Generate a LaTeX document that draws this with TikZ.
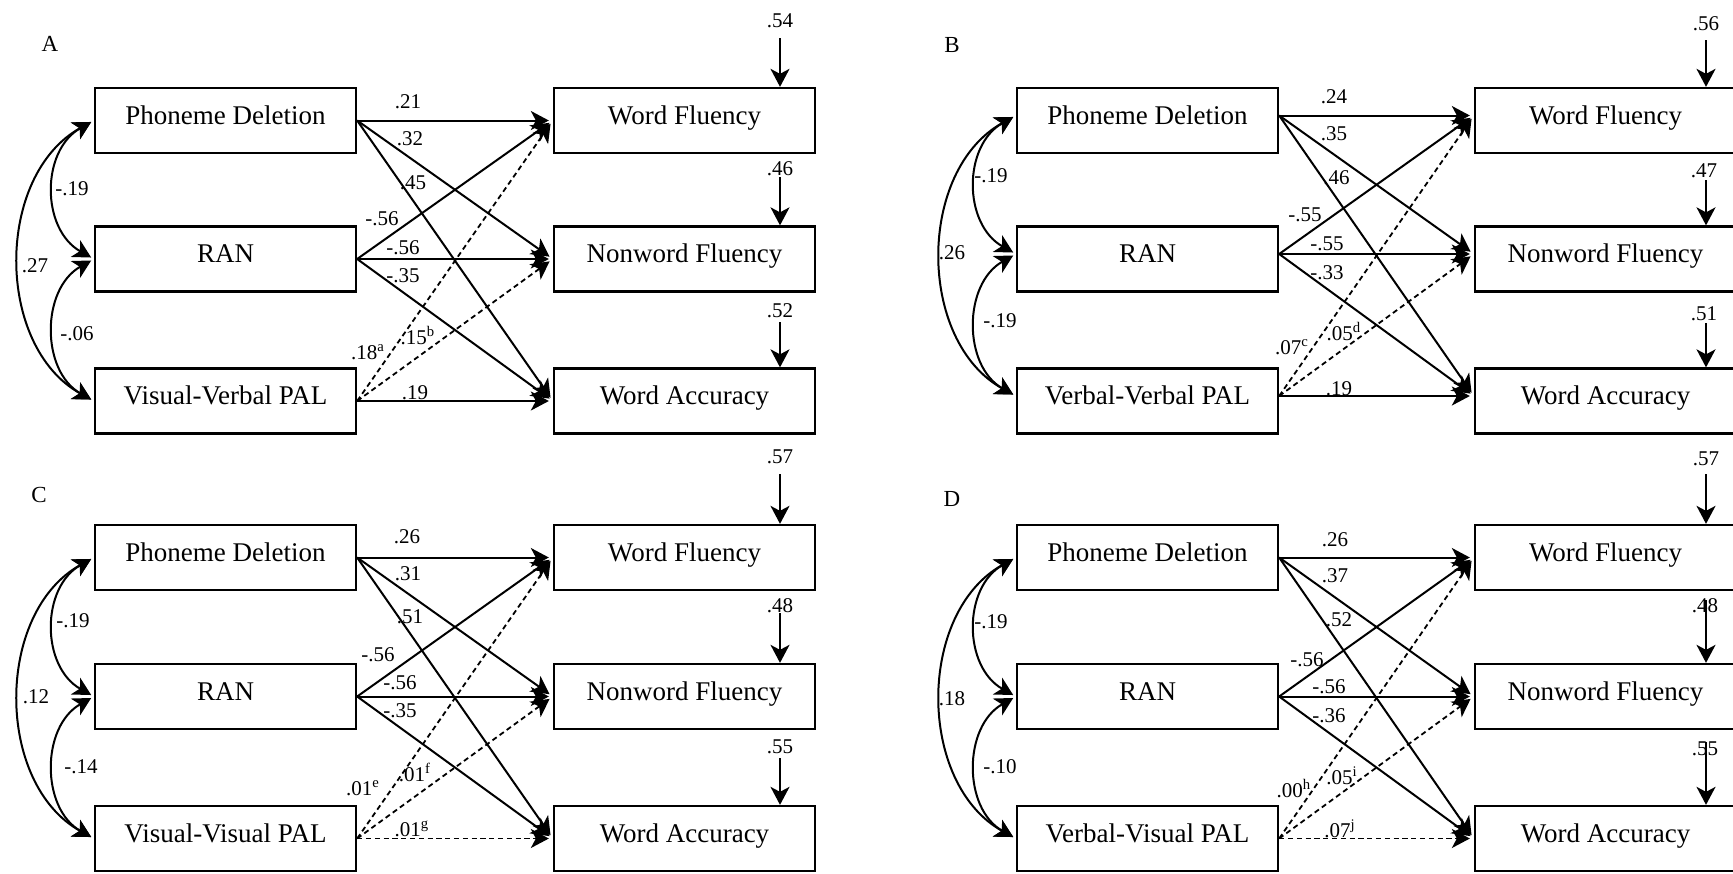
\documentclass[tikz,border=0pt]{standalone}
\usepackage{fontspec}
\setmainfont{Liberation Serif}
\usetikzlibrary{arrows.meta}

\tikzset{
  box/.style={draw=black, line width=1.15pt, minimum width=130.5pt, minimum height=32.5pt,
    inner sep=0pt, font=\fontsize{13.5pt}{16pt}\selectfont, text height=9pt, text depth=5.5pt},
  lab/.style={inner sep=0pt, font=\fontsize{10.5pt}{12pt}\selectfont, text height=7.1pt, text depth=0pt},
  ttl/.style={inner sep=0pt, font=\fontsize{11.5pt}{13pt}\selectfont, text height=7.6pt, text depth=0pt},
  causal/.style={->, line width=1pt, shorten >=2pt},
  dcausal/.style={causal, line width=0.9pt, dash pattern=on 2.6pt off 1.8pt},
  cov/.style={<->, line width=1pt, shorten >=1.5pt, shorten <=1.5pt},
  err/.style={->, line width=1pt},
}

% paths of one model: #1 node prefix, #2 vertical offset of the path ends,
% #3 style of the PAL -> Word Accuracy path
\newcommand\modelpaths[3]{%
  \foreach \srcbox in {PD,RAN}{
    \foreach \dstbox in {WF,NF,WA}{
      \draw[causal] ([yshift=#2]#1\srcbox.east) -- ([yshift=#2]#1\dstbox.west);
    }
  }
  \draw[dcausal] ([yshift=#2]#1PAL.east) -- ([yshift=#2]#1WF.west);
  \draw[dcausal] ([yshift=#2]#1PAL.east) -- ([yshift=#2]#1NF.west);
  \draw[#3] ([yshift=#2]#1PAL.east) -- ([yshift=#2]#1WA.west);
  \draw[cov] ([yshift=#2]#1PD.west) .. controls +(-53,30) and +(-53,-30) .. ([yshift=#2]#1RAN.west);
  \draw[cov] ([yshift=#2]#1RAN.west) .. controls +(-53,30) and +(-53,-30) .. ([yshift=#2]#1PAL.west);
  \draw[cov] ([yshift=#2]#1PD.west) .. controls +(-99,55) and +(-99,-55) .. ([yshift=#2]#1PAL.west);
}

\begin{document}
\begin{tikzpicture}[x=0.5pt, y=-0.5pt, >={Stealth[length=9pt,width=9.5pt,inset=2.5pt]}]
\fill[white] (0,0) rectangle (1733,873);
\clip (0,0) rectangle (1733,873);

% ---------------- Model A ----------------
\node[ttl] (aTitle) at (50,44) {A};
\node[box] (aPD)  at (225.5,120.5) {Phoneme Deletion};
\node[box] (aRAN) at (225.5,259)   {RAN};
\node[box] (aPAL) at (225.5,401)   {Visual-Verbal PAL};
\node[box] (aWF)  at (684.5,120.5) {Word Fluency};
\node[box] (aNF)  at (684.5,259)   {Nonword Fluency};
\node[box] (aWA)  at (684.5,401)   {Word Accuracy};
\modelpaths{a}{0pt}{causal}
\coordinate (aE1) at (780,38);
\coordinate (aE2) at (780,177);
\coordinate (aE3) at (780,322);
\draw[err] (aE1) -- (aE1 |- aWF.north);
\draw[err] (aE2) -- (aE2 |- aNF.north);
\draw[err] (aE3) -- (aE3 |- aWA.north);
\node[lab] (aR1) at (780,20)  {.54};
\node[lab] (aR2) at (780,168) {.46};
\node[lab] (aR3) at (780,310) {.52};
\node[lab] (aC1) at (72,188)  {-.19};
\node[lab] (aC2) at (35,265)  {.27};
\node[lab] (aC3) at (77,333)  {-.06};
\node[lab] (aP1) at (408,101) {.21};
\node[lab] (aP2) at (410,138) {.32};
\node[lab] (aP3) at (413,182) {.45};
\node[lab] (aP4) at (382,218) {-.56};
\node[lab] (aP5) at (403,247) {-.56};
\node[lab] (aP6) at (403,275) {-.35};
\node[lab] (aP7) at (368,352) {.18\textsuperscript{a}};
\node[lab] (aP8) at (418,337) {.15\textsuperscript{b}};
\node[lab] (aP9) at (415,392) {.19};

% ---------------- Model B ----------------
\node[ttl] (bTitle) at (952,45) {B};
\node[box] (bPD)  at (1147.5,120.5) {Phoneme Deletion};
\node[box] (bRAN) at (1147.5,259)   {RAN};
\node[box] (bPAL) at (1147.5,401)   {Verbal-Verbal PAL};
\node[box] (bWF)  at (1605.5,120.5) {Word Fluency};
\node[box] (bNF)  at (1605.5,259)   {Nonword Fluency};
\node[box] (bWA)  at (1605.5,401)   {Word Accuracy};
\modelpaths{b}{2.5pt}{causal}
\coordinate (bE1) at (1706,40);
\coordinate (bE2) at (1706,180);
\coordinate (bE3) at (1706,323);
\draw[err] (bE1) -- (bE1 |- bWF.north);
\draw[err] (bE2) -- (bE2 |- bNF.north);
\draw[err] (bE3) -- (bE3 |- bWA.north);
\node[lab] (bR1) at (1706,23)  {.56};
\node[lab] (bR2) at (1704,170) {.47};
\node[lab] (bR3) at (1704,313) {.51};
\node[lab] (bC1) at (991,175)  {-.19};
\node[lab] (bC2) at (952,252)  {.26};
\node[lab] (bC3) at (1000,320) {-.19};
\node[lab] (bP1) at (1334,96)  {.24};
\node[lab] (bP2) at (1334,133) {.35};
\node[lab] (bP3) at (1336.5,177) {.46};
\node[lab] (bP4) at (1305,214) {-.55};
\node[lab] (bP5) at (1327,243) {-.55};
\node[lab] (bP6) at (1327,272) {-.33};
\node[lab] (bP7) at (1292,347) {.07\textsuperscript{c}};
\node[lab] (bP8) at (1344,333) {.05\textsuperscript{d}};
\node[lab] (bP9) at (1339,388) {.19};

% ---------------- Model C ----------------
\node[ttl] (cTitle) at (39,495) {C};
\node[box] (cPD)  at (225.5,557.5) {Phoneme Deletion};
\node[box] (cRAN) at (225.5,696.5) {RAN};
\node[box] (cPAL) at (225.5,838.5) {Visual-Visual PAL};
\node[box] (cWF)  at (684.5,557.5) {Word Fluency};
\node[box] (cNF)  at (684.5,696.5) {Nonword Fluency};
\node[box] (cWA)  at (684.5,838.5) {Word Accuracy};
\modelpaths{c}{0pt}{dcausal}
\coordinate (cE1) at (780,474);
\coordinate (cE2) at (780,613);
\coordinate (cE3) at (780,758);
\draw[err] (cE1) -- (cE1 |- cWF.north);
\draw[err] (cE2) -- (cE2 |- cNF.north);
\draw[err] (cE3) -- (cE3 |- cWA.north);
\node[lab] (cR1) at (780,456) {.57};
\node[lab] (cR2) at (780,605) {.48};
\node[lab] (cR3) at (780,746) {.55};
\node[lab] (cC1) at (73,620)  {-.19};
\node[lab] (cC2) at (36,696)  {.12};
\node[lab] (cC3) at (81,766)  {-.14};
\node[lab] (cP1) at (407,536) {.26};
\node[lab] (cP2) at (408,573) {.31};
\node[lab] (cP3) at (410,616) {.51};
\node[lab] (cP4) at (378,654) {-.56};
\node[lab] (cP5) at (400,682) {-.56};
\node[lab] (cP6) at (400,710) {-.35};
\node[lab] (cP7) at (363,788) {.01\textsuperscript{e}};
\node[lab] (cP8) at (415,774) {.01\textsuperscript{f}};
\node[lab] (cP9) at (412,829) {.01\textsuperscript{g}};

% ---------------- Model D ----------------
\node[ttl] (dTitle) at (952,499) {D};
\node[box] (dPD)  at (1147.5,557.5) {Phoneme Deletion};
\node[box] (dRAN) at (1147.5,696.5) {RAN};
\node[box] (dPAL) at (1147.5,838.5) {Verbal-Visual PAL};
\node[box] (dWF)  at (1605.5,557.5) {Word Fluency};
\node[box] (dNF)  at (1605.5,696.5) {Nonword Fluency};
\node[box] (dWA)  at (1605.5,838.5) {Word Accuracy};
\modelpaths{d}{0pt}{dcausal}
\coordinate (dE1) at (1706,474);
\coordinate (dE2) at (1706,600);
\coordinate (dE3) at (1706,742);
\draw[err] (dE1) -- (dE1 |- dWF.north);
\draw[err] (dE2) -- (dE2 |- dNF.north);
\draw[err] (dE3) -- (dE3 |- dWA.north);
\node[lab] (dR1) at (1706,458) {.57};
\node[lab] (dR2) at (1705,605) {.48};
\node[lab] (dR3) at (1705,748) {.55};
\node[lab] (dC1) at (991,621)  {-.19};
\node[lab] (dC2) at (952,698)  {.18};
\node[lab] (dC3) at (1000,766) {-.10};
\node[lab] (dP1) at (1335,539) {.26};
\node[lab] (dP2) at (1335,575) {.37};
\node[lab] (dP3) at (1339,619) {.52};
\node[lab] (dP4) at (1307,659) {-.56};
\node[lab] (dP5) at (1329,686) {-.56};
\node[lab] (dP6) at (1329,715) {-.36};
\node[lab] (dP7) at (1294,790) {.00\textsuperscript{h}};
\node[lab] (dP8) at (1342,777) {.05\textsuperscript{i}};
\node[lab] (dP9) at (1340,830) {.07\textsuperscript{j}};
\end{tikzpicture}
\end{document}
